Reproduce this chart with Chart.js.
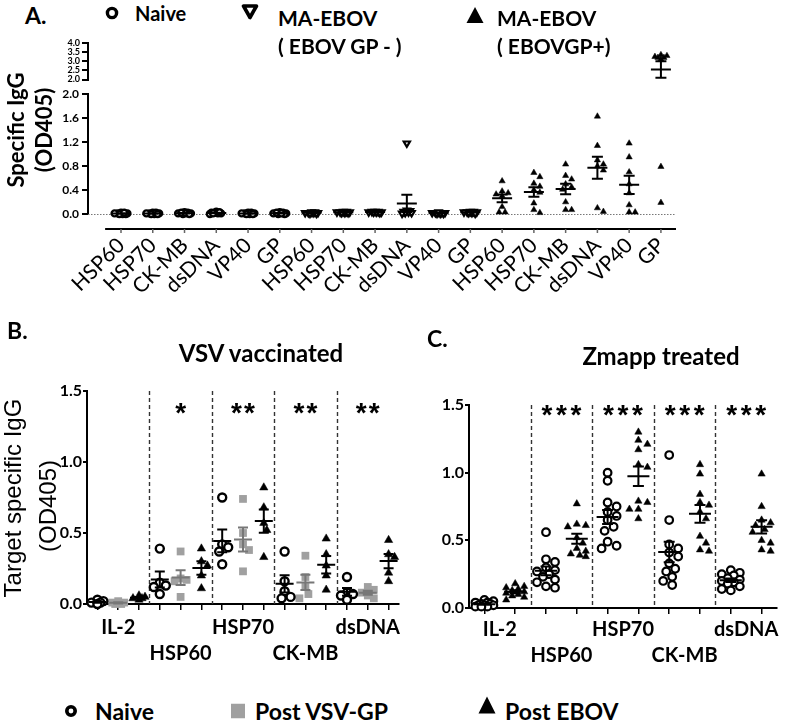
<!DOCTYPE html>
<html><head><meta charset="utf-8">
<script src="https://cdn.jsdelivr.net/npm/chart.js@4.4.1/dist/chart.umd.min.js"></script>
<style>
html,body{margin:0;padding:0;background:#fff;}
#wrap{position:relative;width:787px;height:721px;overflow:hidden;background:#fff;font-family:Lato,"Open Sans",sans-serif;color:#000;}
#wrap canvas{position:absolute;}
.t{position:absolute;white-space:nowrap;line-height:1;font-weight:700;}
.lc{transform:translateY(-50%);}
.cc{transform:translate(-50%,-50%);}
.rot{transform:translate(-50%,-50%) rotate(-90deg);}
.mk{position:absolute;transform:translate(-50%,-50%);}
</style></head>
<body><div id="wrap">
<canvas id="cAU" width="700" height="56" style="left:0;top:30px"></canvas>
<canvas id="cAL" width="700" height="266" style="left:0;top:84px"></canvas>
<canvas id="cB" width="420" height="290" style="left:0;top:380px"></canvas>
<canvas id="cC" width="387" height="290" style="left:400px;top:380px"></canvas>

<div class="t lc" style="left:25px;top:15px;font-size:23px">A.</div>
<svg class="mk" style="left:112px;top:13px" width="16" height="16"><circle cx="8" cy="8" r="4.6" fill="#fff" stroke="#000" stroke-width="3.4"/></svg>
<div class="t lc" style="left:135px;top:13px;font-size:20px">Naive</div>
<svg class="mk" style="left:250px;top:12px" width="18" height="17"><polygon points="2.5,2.5 15.5,2.5 9,14" fill="#fff" stroke="#000" stroke-width="3.6" stroke-linejoin="round"/></svg>
<div class="t lc" style="left:278px;top:17px;font-size:21px">MA-EBOV</div>
<div class="t lc" style="left:278px;top:45px;font-size:21px">( EBOV GP - )</div>
<svg class="mk" style="left:475px;top:15px" width="18" height="17"><polygon points="9,0.5 17.5,16.5 0.5,16.5" fill="#000"/></svg>
<div class="t lc" style="left:497px;top:17px;font-size:21px">MA-EBOV</div>
<div class="t lc" style="left:497px;top:45px;font-size:21px">( EBOVGP+)</div>
<div class="t rot" style="left:16px;top:130px;font-size:22px">Specific IgG</div>
<div class="t rot" style="left:44px;top:130px;font-size:22px">(OD405)</div>

<div class="t lc" style="left:7px;top:330px;font-size:23px">B.</div>
<div class="t cc" style="left:261px;top:353px;font-size:24px">VSV vaccinated</div>
<div class="t rot" style="left:13px;top:498px;font-size:24px;font-weight:400;font-family:'Liberation Sans',Arial,sans-serif">Target specific IgG</div>
<div class="t rot" style="left:48px;top:506px;font-size:24px;font-weight:400;font-family:'Liberation Sans',Arial,sans-serif">(OD405)</div>

<div class="t lc" style="left:427px;top:338px;font-size:23px">C.</div>
<div class="t cc" style="left:661px;top:356px;font-size:24px">Zmapp treated</div>

<svg class="mk" style="left:71px;top:711px" width="16" height="16"><circle cx="8" cy="8" r="4.2" fill="#fff" stroke="#000" stroke-width="3.6"/></svg>
<div class="t lc" style="left:95px;top:711px;font-size:23px">Naive</div>
<svg class="mk" style="left:238px;top:711px" width="14" height="15"><rect x="0" y="0" width="14" height="15" fill="#a0a0a0"/></svg>
<div class="t lc" style="left:255px;top:711px;font-size:23px">Post VSV-GP</div>
<svg class="mk" style="left:487px;top:705px" width="18" height="18"><polygon points="9,0.5 17.5,17.5 0.5,17.5" fill="#000"/></svg>
<div class="t lc" style="left:505px;top:711px;font-size:23px">Post EBOV</div>
</div>
<script>
// ================= DATA =================
// Panel A: three blocks of six antigens
const catsA = ['HSP60','HSP70','CK-MB','dsDNA','VP40','GP','HSP60','HSP70','CK-MB','dsDNA','VP40','GP','HSP60','HSP70','CK-MB','dsDNA','VP40','GP'];
const yTicksALow = [0, 0.4, 0.8, 1.2, 1.6, 2.0];
const yTicksAHigh = [2.0, 2.5, 3.0, 3.5, 4.0];
const aNaive = [
  [0.02,0.01,0.01,0.00,0.00,0.01,0.00,0.02],
  [0.02,0.01,0.00,0.01,0.00,0.01,0.02,0.00],
  [0.03,0.02,0.01,0.01,0.00,0.02,0.01,0.00],
  [0.04,0.02,0.01,0.02,0.00,0.01,0.03,0.01],
  [0.02,0.01,0.00,0.01,0.00,0.02,0.01,0.00],
  [0.03,0.02,0.01,0.00,0.01,0.02,0.00,0.01]
];
const aGPneg = [
  [0.03,0.02,0.02,0.01,0.03,0.02,0.01,0.02],
  [0.04,0.03,0.02,0.03,0.02,0.03,0.04,0.02],
  [0.04,0.03,0.03,0.04,0.02,0.03,0.04,0.03],
  [1.18,0.06,0.05,0.04,0.03,0.02,0.02,0.01],
  [0.02,0.01,0.02,0.01,0.03,0.02,0.01,0.02],
  [0.04,0.03,0.02,0.03,0.04,0.02,0.03,0.01]
];
const aGPpos = [
  [0.55,0.38,0.35,0.33,0.30,0.12,0.03,0.03],
  [0.69,0.62,0.51,0.46,0.40,0.36,0.18,0.07,0.02],
  [0.83,0.64,0.58,0.50,0.45,0.41,0.20,0.07,0.07],
  [1.63,1.14,0.90,0.83,0.80,0.73,0.10,0.04],
  [1.18,0.95,0.70,0.50,0.35,0.15,0.03,0.03],
  [3.35,3.30,3.25,3.20,3.20,3.10,0.79,0.19]
];
// Panel B: VSV vaccinated
const groupsB = ['IL-2','HSP60','HSP70','CK-MB','dsDNA'];
const bNaive = [
  [0.03,0.02,0.01,0.01,0.00],
  [0.39,0.15,0.13,0.12,0.07],
  [0.75,0.42,0.40,0.37,0.28],
  [0.37,0.16,0.09,0.05,0.04],
  [0.19,0.08,0.07,0.06,0.03]
];
const bVSV = [
  [0.02,0.01,0.01,0.00,0.00],
  [0.37,0.18,0.17,0.16,0.05],
  [0.74,0.50,0.42,0.38,0.23],
  [0.34,0.19,0.12,0.07,0.04],
  [0.12,0.10,0.08,0.06,0.04]
];
const bEBOV = [
  [0.06,0.05,0.04,0.04,0.03],
  [0.39,0.30,0.27,0.20,0.11],
  [0.82,0.68,0.57,0.52,0.33],
  [0.46,0.35,0.27,0.20,0.10],
  [0.45,0.35,0.33,0.22,0.16]
];
const starsB = ['', '*', '**', '**', '**'];
// Panel C: Zmapp treated
const groupsC = ['IL-2','HSP60','HSP70','CK-MB','dsDNA'];
const cNaive = [
  [0.06,0.05,0.04,0.04,0.03,0.03,0.02,0.02,0.02,0.01,0.01,0.01],
  [0.56,0.36,0.34,0.30,0.28,0.27,0.25,0.23,0.21,0.19,0.16,0.15],
  [1.00,0.94,0.78,0.75,0.71,0.68,0.65,0.60,0.57,0.49,0.46,0.44],
  [1.13,0.65,0.47,0.44,0.41,0.38,0.33,0.29,0.27,0.23,0.20,0.17],
  [0.28,0.26,0.25,0.24,0.22,0.21,0.20,0.19,0.18,0.16,0.14,0.13]
];
const cEBOV = [
  [0.18,0.16,0.15,0.14,0.13,0.12,0.11,0.10,0.09,0.08,0.06],
  [0.77,0.62,0.61,0.60,0.52,0.48,0.44,0.42,0.40,0.39,0.38],
  [1.30,1.24,1.21,1.17,1.06,1.04,0.79,0.78,0.73,0.73,0.66],
  [1.06,0.99,0.84,0.78,0.76,0.71,0.66,0.53,0.48,0.43,0.42],
  [0.99,0.75,0.65,0.63,0.61,0.58,0.56,0.50,0.48,0.43,0.42]
];
const starsC = ['', '***', '***', '***', '***'];
const yTicksBC = [0, 0.5, 1.0, 1.5];

// ================= HELPERS =================
Chart.defaults.color = '#000';
Chart.defaults.font.family = 'Lato, "Open Sans", sans-serif';

// horizontal spreading of points of one column (layout only, values untouched)
function swarm(vals, pxY, minD, step, maxW) {
  const order = vals.map((_, i) => i).sort((a, b) => vals[b] - vals[a]);
  const cands = [0];
  for (let k = 1; k * step <= maxW + 1e-9; k++) cands.push(k * step, -k * step);
  const placed = [], off = vals.map(() => 0);
  order.forEach(i => {
    const yy = vals[i] * pxY;
    let best = 0, bestD = -1;
    for (const o of cands) {
      const d = placed.length ? Math.min(...placed.map(p => Math.hypot(p.x - o, p.y - yy))) : Infinity;
      if (d >= minD) { best = o; bestD = d; break; }
      if (d > bestD) { bestD = d; best = o; }
    }
    off[i] = best; placed.push({x: best, y: yy});
  });
  return off;
}

function sets(groups, xOf, st, sw, keep, eb) {
  return groups.map((vals, g) => {
    const kept = keep ? vals.filter(keep) : vals.slice();
    const off = swarm(kept, sw.pxY, sw.minD, sw.step, sw.maxW);
    return {
      data: kept.map((v, k) => ({x: xOf(g) + off[k] / sw.pxX, y: v})),
      pointStyle: st.style, pointRadius: st.r, pointHoverRadius: st.r, pointBorderWidth: st.bw,
      pointBackgroundColor: st.bg, pointBorderColor: st.bc, pointRotation: st.rot || 0,
      clip: false,
      ebValues: vals, ebX: xOf(g), ebColor: eb.color, ebMeanW: eb.meanW, ebCapW: eb.capW, ebLW: eb.lw
    };
  });
}

function decor(cfg) {
  return {
    id: 'decor',
    beforeDatasetsDraw(chart) {
      const {ctx, chartArea: ca, scales: {x, y}} = chart;
      ctx.save();
      if (cfg.zeroLine) {
        ctx.strokeStyle = '#777'; ctx.lineWidth = 1; ctx.setLineDash([1.5, 1.5]);
        const py = Math.round(y.getPixelForValue(0)) + 0.5;
        ctx.beginPath(); ctx.moveTo(ca.left, py); ctx.lineTo(ca.right, py); ctx.stroke();
      }
      if (cfg.separators) {
        ctx.strokeStyle = '#333'; ctx.lineWidth = 1.4; ctx.setLineDash([4, 3]);
        cfg.separators.forEach(v => {
          const px = Math.round(x.getPixelForValue(v)) + 0.5;
          ctx.beginPath(); ctx.moveTo(px, ca.top); ctx.lineTo(px, ca.bottom); ctx.stroke();
        });
      }
      ctx.restore();
    },
    afterDatasetsDraw(chart) {
      const {ctx, chartArea: ca, scales: {x, y}} = chart;
      ctx.save(); ctx.setLineDash([]);
      chart.data.datasets.forEach(ds => {
        const v = ds.ebValues; if (!v || v.length < 2) return;
        const n = v.length, m = v.reduce((a, b) => a + b, 0) / n;
        const sd = Math.sqrt(v.reduce((a, b) => a + (b - m) * (b - m), 0) / (n - 1));
        const se = sd / Math.sqrt(n);
        if (m < y.min || m > y.max) return;
        const px = x.getPixelForValue(ds.ebX), pm = y.getPixelForValue(m);
        const hiV = m + se, loV = m - se;
        const ph = y.getPixelForValue(Math.min(hiV, y.max)), pl = y.getPixelForValue(Math.max(loV, y.min));
        ctx.strokeStyle = ds.ebColor; ctx.lineWidth = ds.ebLW;
        ctx.beginPath();
        ctx.moveTo(px - ds.ebMeanW / 2, pm); ctx.lineTo(px + ds.ebMeanW / 2, pm);
        ctx.moveTo(px, ph); ctx.lineTo(px, pl);
        if (hiV <= y.max) { ctx.moveTo(px - ds.ebCapW / 2, ph); ctx.lineTo(px + ds.ebCapW / 2, ph); }
        if (loV >= y.min) { ctx.moveTo(px - ds.ebCapW / 2, pl); ctx.lineTo(px + ds.ebCapW / 2, pl); }
        ctx.stroke();
      });
      if (cfg.offsetAxis) {
        const oa = cfg.offsetAxis;
        const py = ca.bottom + oa.gap;
        ctx.strokeStyle = '#000'; ctx.lineWidth = 2;
        ctx.beginPath(); ctx.moveTo(x.getPixelForValue(oa.from), py); ctx.lineTo(ca.right, py); ctx.stroke();
        ctx.strokeStyle = '#666'; ctx.lineWidth = 1.5;
        ctx.beginPath();
        for (let i = 0; i < oa.count; i++) { const px = x.getPixelForValue(i); ctx.moveTo(px, py); ctx.lineTo(px, py + 4); }
        ctx.stroke();
      }
      if (cfg.stars) {
        ctx.fillStyle = '#000';
        ctx.font = 'bold ' + cfg.starSize + 'px "Liberation Sans", Arial, sans-serif';
        ctx.textAlign = 'center'; ctx.textBaseline = 'alphabetic';
        cfg.stars.forEach((s, g) => {
          if (!s) return;
          const cx = x.getPixelForValue(cfg.starX(g));
          for (let j = 0; j < s.length; j++) {
            ctx.fillText('*', cx + (j - (s.length - 1) / 2) * cfg.starAdv, ca.top + cfg.starDy);
          }
        });
      }
      ctx.restore();
    }
  };
}

const fmt1 = v => Number(v).toFixed(1);

// ================= PANEL A =================
const A_L = 88, A_R = 676, A_X0 = 121, A_DX = 31.76;
const xminA = -(A_X0 - A_L) / A_DX, xmaxA = xminA + (A_R - A_L) / A_DX;
const ebA = {color: '#000', meanW: 20, capW: 11, lw: 2};
const stNaiveA = {style: 'circle', r: 3, bw: 2.4, bg: '#fff', bc: '#000'};
const stNegA = {style: 'triangle', r: 3.6, bw: 2.2, bg: '#fff', bc: '#000', rot: 180};
const stPosA = {style: 'triangle', r: 3.6, bw: 0.5, bg: '#000', bc: '#000'};
const low = v => v <= 2, high = v => v > 2;

const dsAL = [].concat(
  sets(aNaive, g => g, stNaiveA, {pxY: 60, pxX: A_DX, minD: 2, step: 1.6, maxW: 6.5}, low, ebA),
  sets(aGPneg, g => g + 6, stNegA, {pxY: 60, pxX: A_DX, minD: 2, step: 1.6, maxW: 6.5}, low, ebA),
  sets(aGPpos, g => g + 12, stPosA, {pxY: 60, pxX: A_DX, minD: 6, step: 3, maxW: 8}, low, ebA)
);
const dsAU = sets(aGPpos, g => g + 12, stPosA, {pxY: 19, pxX: A_DX, minD: 4, step: 3, maxW: 8}, high, ebA);

const yBaseA = {
  type: 'linear',
  afterFit: s => { s.width = A_L; },
  grid: {drawOnChartArea: false, tickLength: 6, color: '#000', lineWidth: 2},
  border: {color: '#000', width: 2}
};

new Chart(document.getElementById('cAU'), {
  type: 'scatter',
  data: {datasets: dsAU},
  options: {
    responsive: false, animation: false, events: [],
    layout: {padding: {top: 13, bottom: 5, right: 700 - A_R, left: 0}},
    plugins: {legend: {display: false}, tooltip: {enabled: false}},
    scales: {
      x: {type: 'linear', display: false, min: xminA, max: xmaxA},
      y: Object.assign({}, yBaseA, {
        min: 2, max: 4,
        afterBuildTicks: s => { s.ticks = yTicksAHigh.map(v => ({value: v})); },
        ticks: {autoSkip: false, font: {size: 9, weight: 'bold', lineHeight: 1}, padding: 2, callback: fmt1}
      })
    }
  },
  plugins: [decor({})]
});

new Chart(document.getElementById('cAL'), {
  type: 'scatter',
  data: {datasets: dsAL},
  options: {
    responsive: false, animation: false, events: [],
    layout: {padding: {top: 10, bottom: 0, right: 700 - A_R, left: 0}},
    plugins: {legend: {display: false}, tooltip: {enabled: false}},
    scales: {
      x: {
        type: 'linear', min: xminA, max: xmaxA,
        afterFit: s => { s.height = 136; },
        afterBuildTicks: s => { s.ticks = catsA.map((c, i) => ({value: i})); },
        grid: {display: false, drawTicks: false},
        border: {display: false},
        ticks: {autoSkip: false, minRotation: 45, maxRotation: 45, padding: 19,
                font: {size: 21}, callback: v => catsA[Math.round(v)]}
      },
      y: Object.assign({}, yBaseA, {
        min: 0, max: 2,
        afterBuildTicks: s => { s.ticks = yTicksALow.map(v => ({value: v})); },
        ticks: {autoSkip: false, font: {size: 12, weight: 'bold'}, padding: 3, callback: fmt1}
      })
    }
  },
  plugins: [decor({zeroLine: true, offsetAxis: {gap: 15, from: -0.5, count: catsA.length}})]
});

// ================= PANEL B & C =================
function yBC(width) {
  return {
    type: 'linear', min: 0, max: 1.5,
    afterFit: s => { s.width = width; },
    afterBuildTicks: s => { s.ticks = yTicksBC.map(v => ({value: v})); },
    grid: {drawOnChartArea: false, tickLength: 4, color: '#000', lineWidth: 2},
    border: {color: '#000', width: 2},
    ticks: {autoSkip: false, font: {size: 16, weight: 'bold'}, padding: 1, callback: fmt1}
  };
}

// B: 15 sub-columns (3 per antigen)
const pxXB = 312 / 15, pxYB = 213 / 1.5;
const swB = {pxY: pxYB, pxX: pxXB, minD: 7.5, step: 3, maxW: 7};
const dsB = [].concat(
  sets(bNaive, g => g * 3 + 0.5, {style: 'circle', r: 4, bw: 2.4, bg: '#fff', bc: '#000'}, swB, null, {color: '#000', meanW: 18, capW: 10, lw: 2}),
  sets(bVSV, g => g * 3 + 1.5, {style: 'rect', r: 5.5, bw: 0, bg: '#a0a0a0', bc: '#a0a0a0'}, swB, null, {color: '#777', meanW: 18, capW: 10, lw: 2}),
  sets(bEBOV, g => g * 3 + 2.5, {style: 'triangle', r: 4.8, bw: 0.5, bg: '#000', bc: '#000'}, swB, null, {color: '#000', meanW: 18, capW: 10, lw: 2})
);

new Chart(document.getElementById('cB'), {
  type: 'scatter',
  data: {datasets: dsB},
  options: {
    responsive: false, animation: false, events: [],
    layout: {padding: {top: 11, bottom: 0, right: 21, left: 0}},
    plugins: {legend: {display: false}, tooltip: {enabled: false}},
    scales: {
      x: {
        type: 'linear', min: 0, max: 15,
        afterFit: s => { s.height = 66; },
        afterBuildTicks: s => { s.ticks = Array.from({length: 15}, (_, i) => ({value: i + 0.5})); },
        grid: {drawOnChartArea: false, tickLength: 6, color: '#000', lineWidth: 1.5},
        border: {color: '#000', width: 2},
        ticks: {autoSkip: false, minRotation: 0, maxRotation: 0, padding: 5,
                font: {size: 20, weight: 'bold', lineHeight: 1.3},
                callback: (v, i) => {
                  if (i % 3 !== 1) return '';
                  const g = (i - 1) / 3;
                  return g % 2 ? ['', groupsB[g]] : groupsB[g];
                }}
      },
      y: yBC(87)
    }
  },
  plugins: [decor({separators: [3, 6, 9, 12], stars: starsB, starX: g => g * 3 + 1.5, starSize: 28, starDy: 31, starAdv: 13})]
});

// C: 10 sub-columns (2 per antigen)
const pxXC = 308 / 10, pxYC = 203 / 1.5;
const swC = {pxY: pxYC, pxX: pxXC, minD: 7.5, step: 3, maxW: 10};
const dsC = [].concat(
  sets(cNaive, g => g * 2 + 0.5, {style: 'circle', r: 3.8, bw: 2.2, bg: '#fff', bc: '#000'}, swC, null, {color: '#000', meanW: 22, capW: 11, lw: 2}),
  sets(cEBOV, g => g * 2 + 1.5, {style: 'triangle', r: 4.2, bw: 0.5, bg: '#000', bc: '#000'}, swC, null, {color: '#000', meanW: 22, capW: 11, lw: 2})
);

new Chart(document.getElementById('cC'), {
  type: 'scatter',
  data: {datasets: dsC},
  options: {
    responsive: false, animation: false, events: [],
    layout: {padding: {top: 25, bottom: 0, right: 10, left: 0}},
    plugins: {legend: {display: false}, tooltip: {enabled: false}},
    scales: {
      x: {
        type: 'linear', min: 0, max: 10,
        afterFit: s => { s.height = 62; },
        afterBuildTicks: s => {
          const t = [];
          for (let g = 0; g < groupsC.length; g++) { t.push({value: g * 2 + 0.5}, {value: g * 2 + 1}, {value: g * 2 + 1.5}); }
          s.ticks = t;
        },
        grid: {drawOnChartArea: false, tickLength: 6, lineWidth: 1.5,
               color: c => (c.tick && c.tick.value % 1 === 0) ? 'rgba(0,0,0,0)' : '#000',
               tickColor: c => (c.tick && c.tick.value % 1 === 0) ? 'rgba(0,0,0,0)' : '#000'},
        border: {color: '#000', width: 2},
        ticks: {autoSkip: false, minRotation: 0, maxRotation: 0, padding: 3,
                font: {size: 20, weight: 'bold', lineHeight: 1.3},
                callback: v => {
                  if (v % 1 !== 0) return '';
                  const g = (v - 1) / 2;
                  return g % 2 ? ['', groupsC[g]] : groupsC[g];
                }}
      },
      y: yBC(69)
    }
  },
  plugins: [decor({separators: [2, 4, 6, 8], stars: starsC, starX: g => g * 2 + 1, starSize: 28, starDy: 19, starAdv: 14.5})]
});
</script>
</body></html>
